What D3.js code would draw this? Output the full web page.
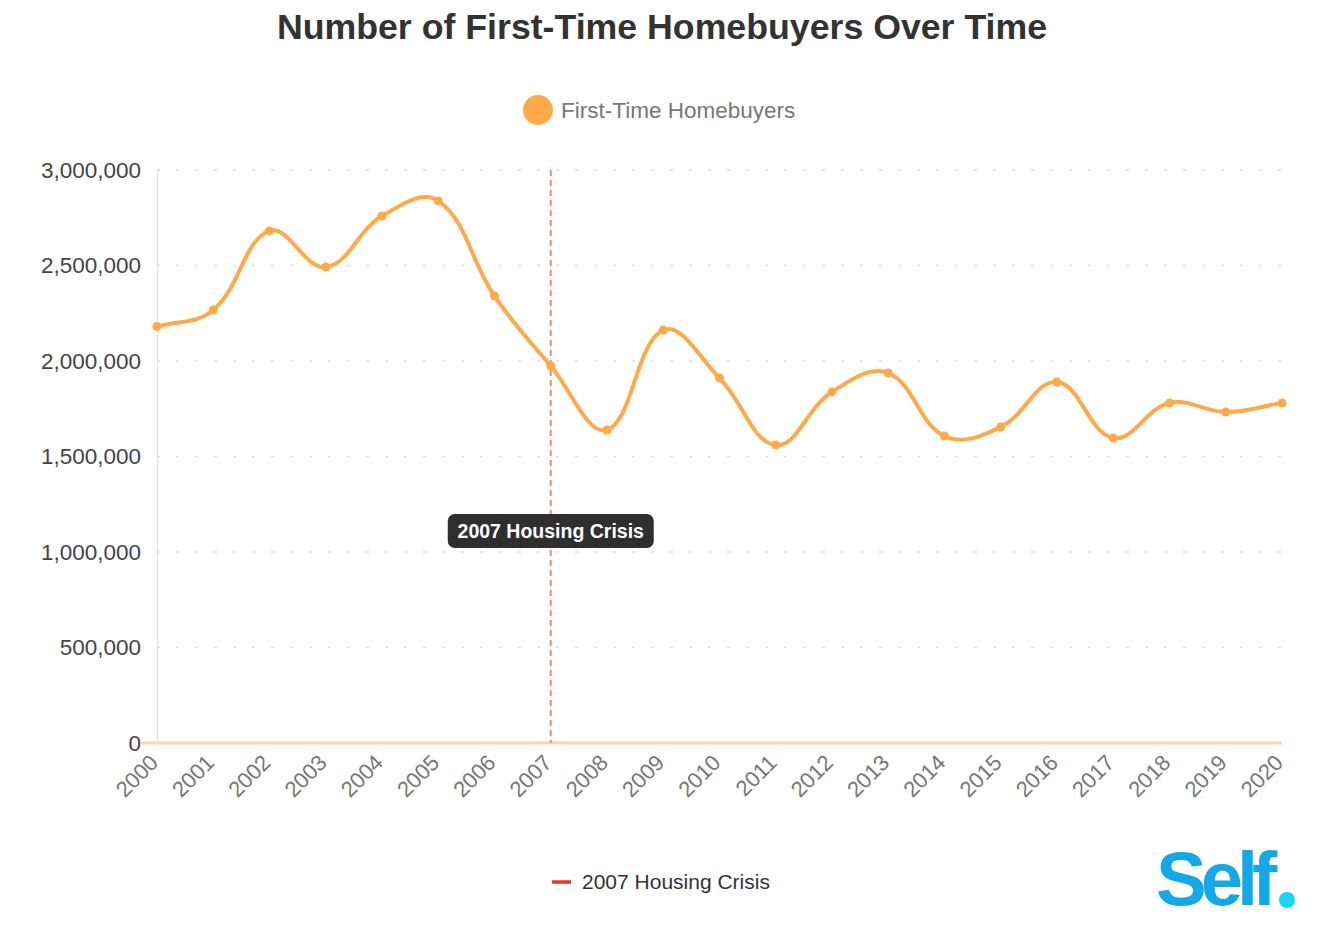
<!DOCTYPE html>
<html>
<head>
<meta charset="utf-8">
<script src="https://cdn.jsdelivr.net/npm/d3@7"></script>
<style>
  body { margin: 0; background: #fff; font-family: "Liberation Sans", Arial, sans-serif; }
</style>
</head>
<body>
<svg id="chart" width="1330" height="936"></svg>
<script>
const years = [2000, 2001, 2002, 2003, 2004, 2005, 2006, 2007, 2008, 2009, 2010,
  2011, 2012, 2013, 2014, 2015, 2016, 2017, 2018, 2019, 2020];
const buyers = [2180000, 2267000, 2681000, 2492000, 2759000, 2838000, 2340000, 1974000,
  1639000, 2162000, 1911000, 1560000, 1838000, 1937000, 1607000, 1654000, 1890000,
  1597000, 1780000, 1733000, 1780000];
const yTicks = [0, 500000, 1000000, 1500000, 2000000, 2500000, 3000000];
const crisisYear = 2007;
const crisisLabel = "2007 Housing Crisis";

const svg = d3.select('#chart');
const plotLeft = 157, plotRight = 1282, plotTop = 170, plotBottom = 743;

const x = d3.scaleLinear().domain([2000, 2020]).range([plotLeft, plotRight]);
const y = d3.scaleLinear().domain([0, 3000000]).range([plotBottom, plotTop]);

// spline like the original chart's (tension 0.4, distance weighted)
function splineCurve(context) {
  let pts = [];
  const t = 0.4;
  return {
    areaStart() {}, areaEnd() {},
    lineStart() { pts = []; },
    point(px, py) { pts.push([px, py]); },
    lineEnd() {
      const n = pts.length;
      const ctrl = pts.map((p, i) => {
        const prev = pts[Math.max(i - 1, 0)], next = pts[Math.min(i + 1, n - 1)];
        const d01 = Math.hypot(p[0] - prev[0], p[1] - prev[1]);
        const d12 = Math.hypot(next[0] - p[0], next[1] - p[1]);
        let s01 = d01 / (d01 + d12), s12 = d12 / (d01 + d12);
        if (isNaN(s01)) s01 = 0;
        if (isNaN(s12)) s12 = 0;
        const dx = next[0] - prev[0], dy = next[1] - prev[1];
        return {
          inX: p[0] - t * s01 * dx, inY: p[1] - t * s01 * dy,
          outX: p[0] + t * s12 * dx, outY: p[1] + t * s12 * dy
        };
      });
      context.moveTo(pts[0][0], pts[0][1]);
      for (let i = 1; i < n; i++) {
        context.bezierCurveTo(ctrl[i - 1].outX, ctrl[i - 1].outY, ctrl[i].inX, ctrl[i].inY, pts[i][0], pts[i][1]);
      }
    }
  };
}

// title
svg.append('text')
  .attr('x', 662).attr('y', 39)
  .attr('text-anchor', 'middle')
  .style('font-size', '35.7px').style('font-weight', 'bold').style('fill', '#333')
  .text('Number of First-Time Homebuyers Over Time');

// top legend
svg.append('circle').attr('cx', 538).attr('cy', 110).attr('r', 15).attr('fill', '#ffaa4a');
svg.append('text')
  .attr('x', 561).attr('y', 118)
  .style('font-size', '22.5px').style('fill', '#777')
  .text('First-Time Homebuyers');

// grid
svg.append('g')
  .selectAll('line')
  .data(yTicks.filter(d => d > 0))
  .enter()
  .append('line')
  .attr('x1', plotLeft).attr('x2', plotRight)
  .attr('y1', d => y(d)).attr('y2', d => y(d))
  .attr('stroke', '#ddd').attr('stroke-width', 1.5)
  .attr('stroke-dasharray', '3,16');

// y axis
const yAxis = svg.append('g')
  .attr('transform', `translate(${plotLeft},0)`)
  .call(d3.axisLeft(y).tickValues(yTicks).tickSize(0).tickPadding(16)
    .tickFormat(d3.format(',')));
yAxis.select('.domain').attr('stroke', '#e2e2e2');
yAxis.selectAll('text')
  .style('font-size', '22.5px').style('fill', '#444')
  .style('font-family', '"Liberation Sans", Arial, sans-serif');

// x axis
const xAxis = svg.append('g')
  .attr('transform', `translate(0,${plotBottom})`)
  .call(d3.axisBottom(x).tickValues(years).tickSize(0).tickFormat(d3.format('d')));
xAxis.select('.domain').remove();
xAxis.selectAll('text')
  .attr('x', 0).attr('y', 0).attr('dy', 0)
  .attr('transform', 'translate(2,21) rotate(-45)')
  .attr('text-anchor', 'end')
  .style('font-size', '22px').style('fill', '#777')
  .style('font-family', '"Liberation Sans", Arial, sans-serif');

svg.append('line')
  .attr('x1', plotLeft - 17).attr('x2', plotRight)
  .attr('y1', plotBottom).attr('y2', plotBottom)
  .attr('stroke', '#ffd6a6').attr('stroke-width', 3);

// crisis line
svg.append('line')
  .attr('x1', x(crisisYear)).attr('x2', x(crisisYear))
  .attr('y1', plotTop).attr('y2', plotBottom)
  .attr('stroke', '#f7857a').attr('stroke-width', 2)
  .attr('stroke-dasharray', '6,4');

// data line
const line = d3.line()
  .x((d, i) => x(years[i]))
  .y(d => y(d))
  .curve(splineCurve);

svg.append('path')
  .datum(buyers)
  .attr('d', line)
  .attr('fill', 'none')
  .attr('stroke', '#ffaa4a')
  .attr('stroke-width', 4);

svg.append('g')
  .selectAll('circle')
  .data(buyers)
  .enter()
  .append('circle')
  .attr('cx', (d, i) => x(years[i]))
  .attr('cy', d => y(d))
  .attr('r', 4.5)
  .attr('fill', '#ffaa4a');

// annotation label
const lab = svg.append('g').attr('transform', `translate(${x(crisisYear)},531)`);
lab.append('rect')
  .attr('x', -103).attr('y', -17).attr('width', 206).attr('height', 34)
  .attr('rx', 7).attr('fill', '#2f2f2f');
lab.append('text')
  .attr('text-anchor', 'middle').attr('y', 7)
  .style('font-size', '19.5px').style('font-weight', 'bold').style('fill', '#fff')
  .text(crisisLabel);

// bottom legend
svg.append('line')
  .attr('x1', 552).attr('x2', 571).attr('y1', 882).attr('y2', 882)
  .attr('stroke', '#ee3322').attr('stroke-width', 3.5);
svg.append('text')
  .attr('x', 582).attr('y', 889)
  .style('font-size', '21px').style('fill', '#333')
  .text(crisisLabel);

// logo
svg.append('text')
  .attr('x', 1156).attr('y', 905)
  .style('font-size', '76px').style('font-weight', 'bold').style('fill', '#14a9e6')
  .style('letter-spacing', '-6px')
  .text('Self');
svg.append('circle').attr('cx', 1287).attr('cy', 900).attr('r', 8).attr('fill', '#1bd3f7');
</script>
</body>
</html>
